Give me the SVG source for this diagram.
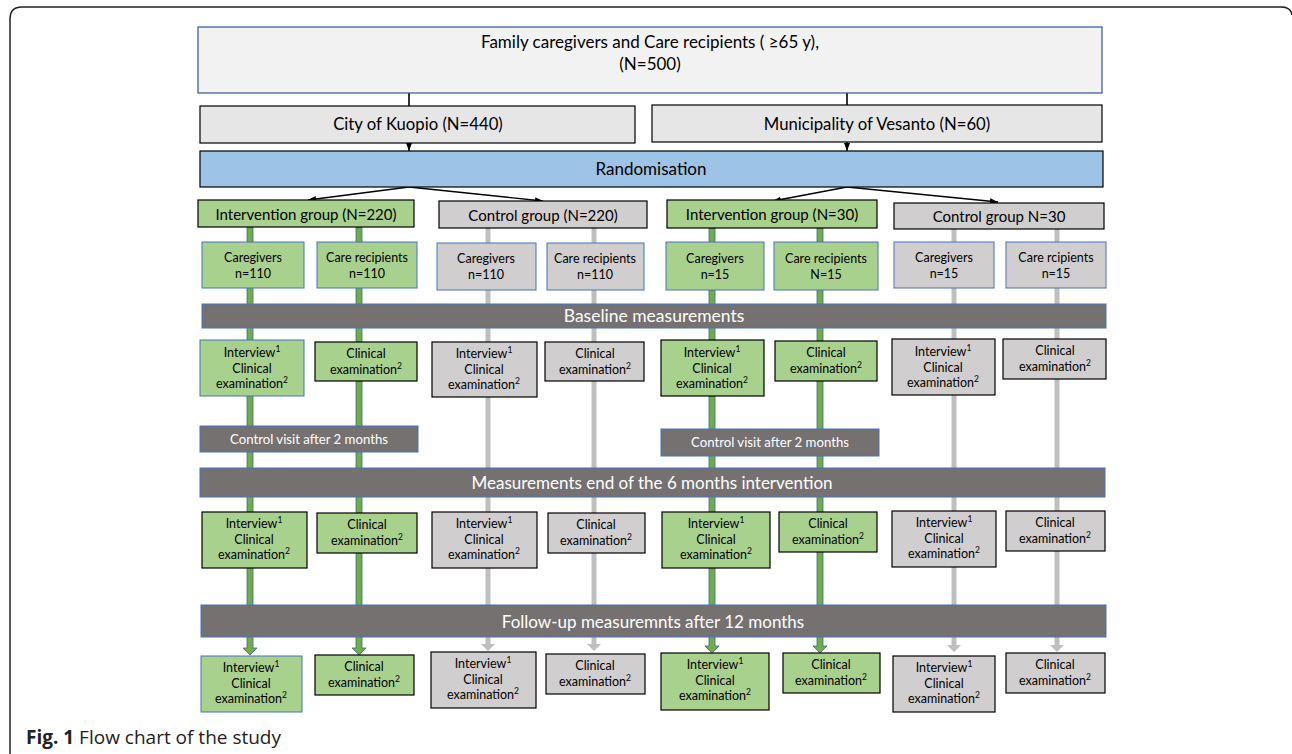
<svg xmlns="http://www.w3.org/2000/svg" width="1292" height="754" viewBox="0 0 1292 754">
<defs>
<marker id="ah" markerUnits="userSpaceOnUse" markerWidth="8" markerHeight="6" refX="8" refY="3" orient="auto">
<path d="M0,0 L8,3 L0,6 z" fill="#000"/>
</marker>
</defs>
<style>
text{font-family:Lato,"Open Sans","Liberation Sans",sans-serif;fill:#000;text-anchor:middle}
.top{fill:#f2f2f2;stroke:#2f5597;stroke-width:1.2}
.site{fill:#e7e6e6;stroke:#000;stroke-width:1.2}
.rand{fill:#9dc3e6;stroke:#000;stroke-width:1.2}
.gk{fill:#a9d18e;stroke:#000;stroke-width:1.2}
.gb{fill:#a9d18e;stroke:#4472c4;stroke-width:1}
.pk{fill:#d0cece;stroke:#000;stroke-width:1.2}
.pb{fill:#d0cece;stroke:#4472c4;stroke-width:1}
.bar{fill:#767171;stroke:#4472c4;stroke-width:1}
.wt{fill:#fff}
.s12{font-size:12.5px}
.s13{font-size:13.2px}
.s15{font-size:15px}
.s16{font-size:16.7px}
.s17{font-size:17px}
.s175{font-size:17.5px}
.sup{font-size:8.5px}
.garrow{fill:#70ad47;stroke:#3e6b94;stroke-width:0.8}
.parrow{fill:#bfbfbf}
.ln{stroke:#000;stroke-width:1.6;fill:none}
.ar{stroke:#000;stroke-width:1.4;fill:none;marker-end:url(#ah)}
.frame{fill:none;stroke:#222;stroke-width:1.5}
</style>
<rect width="1292" height="754" fill="#fff"/>
<path class="frame" d="M10,754 V19 Q10,7 22,7 H1281 Q1291,7 1292,15"/>

<g id="connectors">
<line class="ln" x1="409" y1="93" x2="409" y2="106"/>
<line class="ln" x1="847" y1="93" x2="847" y2="105"/>
<line class="ar" x1="409" y1="143" x2="409" y2="151"/>
<line class="ar" x1="847" y1="142" x2="847" y2="151"/>
<line class="ar" x1="409" y1="187" x2="308" y2="200"/>
<line class="ar" x1="409" y1="187" x2="543" y2="201"/>
<line class="ar" x1="847" y1="187" x2="773" y2="201"/>
<line class="ar" x1="847" y1="187" x2="998" y2="202"/>
<polygon class="garrow" points="247,227 253,227 253,648 257,648 250,655 243,648 247,648"/>
<polygon class="garrow" points="356,227 362,227 362,648 366,648 359,655 352,648 356,648"/>
<polygon class="garrow" points="709,228 715,228 715,646 719,646 712,653 705,646 709,646"/>
<polygon class="garrow" points="817,228 823,228 823,646 827,646 820,653 813,646 817,646"/>
<polygon class="parrow" points="485.5,228 490.5,228 490.5,644 495,644 488,651 481,644 485.5,644"/>
<polygon class="parrow" points="591.5,228 596.5,228 596.5,644 601,644 594,651 587,644 591.5,644"/>
<polygon class="parrow" points="951.5,229 956.5,229 956.5,645 961,645 954,652 947,645 951.5,645"/>
<polygon class="parrow" points="1054.5,229 1059.5,229 1059.5,645 1064,645 1057,652 1050,645 1054.5,645"/>
</g>

<g id="population">
<rect class="top" x="198" y="27" width="904" height="66"/>
<text class="s17" x="650" y="48">Family caregivers and Care recipients ( ≥65 y),</text>
<text class="s17" x="650" y="70">(N=500)</text>
</g>
<g id="kuopio">
<rect class="site" x="200" y="106" width="435" height="37"/>
<text class="s16" x="418" y="130">City of Kuopio (N=440)</text>
</g>
<g id="vesanto">
<rect class="site" x="652" y="105" width="450" height="37"/>
<text class="s16" x="877" y="130">Municipality of Vesanto (N=60)</text>
</g>
<g id="randomisation">
<rect class="rand" x="200" y="151" width="903" height="36"/>
<text class="s17" x="651" y="175">Randomisation</text>
</g>

<g id="int220">
<rect class="gk" x="198" y="200" width="216" height="27"/>
<text class="s15" x="306" y="220">Intervention group (N=220)</text>
</g>
<g id="ctl220">
<rect class="pk" x="439" y="201" width="208" height="27"/>
<text class="s15" x="543" y="221">Control group (N=220)</text>
</g>
<g id="int30">
<rect class="gk" x="667" y="200" width="210" height="28"/>
<text class="s15" x="772" y="220">Intervention group (N=30)</text>
</g>
<g id="ctl30">
<rect class="pk" x="894" y="203" width="210" height="26"/>
<text class="s15" x="999" y="222">Control group N=30</text>
</g>

<g id="cg1">
<rect class="gb" x="202" y="242" width="102" height="46"/>
<text class="s12" x="253" y="262">Caregivers</text>
<text class="s12" x="253" y="278">n=110</text>
</g>
<g id="cr1">
<rect class="gb" x="317" y="242" width="100" height="46"/>
<text class="s12" x="367" y="262">Care recipients</text>
<text class="s12" x="367" y="278">n=110</text>
</g>
<g id="cg2">
<rect class="pb" x="437" y="243" width="99" height="47"/>
<text class="s12" x="486" y="263">Caregivers</text>
<text class="s12" x="486" y="279">n=110</text>
</g>
<g id="cr2">
<rect class="pb" x="547" y="243" width="97" height="47"/>
<text class="s12" x="595" y="263">Care recipients</text>
<text class="s12" x="595" y="279">n=110</text>
</g>
<g id="cg3">
<rect class="gb" x="666" y="242" width="98" height="48"/>
<text class="s12" x="715" y="263">Caregivers</text>
<text class="s12" x="715" y="279">n=15</text>
</g>
<g id="cr3">
<rect class="gb" x="774" y="242" width="104" height="48"/>
<text class="s12" x="826" y="263">Care recipients</text>
<text class="s12" x="826" y="279">N=15</text>
</g>
<g id="cg4">
<rect class="pb" x="894" y="242" width="100" height="46"/>
<text class="s12" x="944" y="262">Caregivers</text>
<text class="s12" x="944" y="278">n=15</text>
</g>
<g id="cr4">
<rect class="pb" x="1006" y="242" width="100" height="46"/>
<text class="s12" x="1056" y="262">Care rcipients</text>
<text class="s12" x="1056" y="278">n=15</text>
</g>

<g id="baseline">
<rect class="bar" x="202" y="304" width="904" height="24"/>
<text class="s175 wt" x="654" y="322">Baseline measurements</text>
</g>

<g id="b1">
<rect class="gb" x="200" y="340" width="104" height="56"/>
<text class="s12" x="252" y="357">Interview<tspan class="sup" dy="-5">1</tspan></text>
<text class="s12" x="252" y="373">Clinical</text>
<text class="s12" x="252" y="388">examination<tspan class="sup" dy="-5">2</tspan></text>
</g>
<g id="b2">
<rect class="gk" x="315" y="342" width="102" height="39"/>
<text class="s12" x="366" y="358">Clinical</text>
<text class="s12" x="366" y="374">examination<tspan class="sup" dy="-5">2</tspan></text>
</g>
<g id="b3">
<rect class="pk" x="432" y="342" width="105" height="55"/>
<text class="s12" x="484" y="358">Interview<tspan class="sup" dy="-5">1</tspan></text>
<text class="s12" x="484" y="374">Clinical</text>
<text class="s12" x="484" y="389">examination<tspan class="sup" dy="-5">2</tspan></text>
</g>
<g id="b4">
<rect class="pk" x="545" y="342" width="99" height="39"/>
<text class="s12" x="595" y="358">Clinical</text>
<text class="s12" x="595" y="374">examination<tspan class="sup" dy="-5">2</tspan></text>
</g>
<g id="b5">
<rect class="gk" x="661" y="340" width="103" height="56"/>
<text class="s12" x="712" y="357">Interview<tspan class="sup" dy="-5">1</tspan></text>
<text class="s12" x="712" y="373">Clinical</text>
<text class="s12" x="712" y="388">examination<tspan class="sup" dy="-5">2</tspan></text>
</g>
<g id="b6">
<rect class="gk" x="775" y="341" width="102" height="40"/>
<text class="s12" x="826" y="357">Clinical</text>
<text class="s12" x="826" y="373">examination<tspan class="sup" dy="-5">2</tspan></text>
</g>
<g id="b7">
<rect class="pk" x="892" y="339" width="103" height="56"/>
<text class="s12" x="943" y="356">Interview<tspan class="sup" dy="-5">1</tspan></text>
<text class="s12" x="943" y="372">Clinical</text>
<text class="s12" x="943" y="387">examination<tspan class="sup" dy="-5">2</tspan></text>
</g>
<g id="b8">
<rect class="pk" x="1003" y="339" width="103" height="40"/>
<text class="s12" x="1055" y="355">Clinical</text>
<text class="s12" x="1055" y="371">examination<tspan class="sup" dy="-5">2</tspan></text>
</g>

<g id="visit1">
<rect class="bar" x="200" y="426" width="218" height="26"/>
<text class="s13 wt" x="309" y="444">Control visit after 2 months</text>
</g>
<g id="visit2">
<rect class="bar" x="661" y="429" width="218" height="27"/>
<text class="s13 wt" x="770" y="447">Control visit after 2 months</text>
</g>

<g id="end6">
<rect class="bar" x="200" y="468" width="905" height="29"/>
<text class="s17 wt" x="652" y="489">Measurements end of the 6 months intervention</text>
</g>

<g id="e1">
<rect class="gk" x="202" y="512" width="105" height="56"/>
<text class="s12" x="254" y="528">Interview<tspan class="sup" dy="-5">1</tspan></text>
<text class="s12" x="254" y="544">Clinical</text>
<text class="s12" x="254" y="559">examination<tspan class="sup" dy="-5">2</tspan></text>
</g>
<g id="e2">
<rect class="gk" x="317" y="513" width="100" height="40"/>
<text class="s12" x="367" y="529">Clinical</text>
<text class="s12" x="367" y="545">examination<tspan class="sup" dy="-5">2</tspan></text>
</g>
<g id="e3">
<rect class="pk" x="432" y="512" width="105" height="56"/>
<text class="s12" x="484" y="528">Interview<tspan class="sup" dy="-5">1</tspan></text>
<text class="s12" x="484" y="544">Clinical</text>
<text class="s12" x="484" y="559">examination<tspan class="sup" dy="-5">2</tspan></text>
</g>
<g id="e4">
<rect class="pk" x="548" y="513" width="97" height="40"/>
<text class="s12" x="596" y="529">Clinical</text>
<text class="s12" x="596" y="545">examination<tspan class="sup" dy="-5">2</tspan></text>
</g>
<g id="e5">
<rect class="gk" x="662" y="512" width="108" height="56"/>
<text class="s12" x="716" y="528">Interview<tspan class="sup" dy="-5">1</tspan></text>
<text class="s12" x="716" y="544">Clinical</text>
<text class="s12" x="716" y="559">examination<tspan class="sup" dy="-5">2</tspan></text>
</g>
<g id="e6">
<rect class="gk" x="779" y="512" width="98" height="40"/>
<text class="s12" x="828" y="528">Clinical</text>
<text class="s12" x="828" y="544">examination<tspan class="sup" dy="-5">2</tspan></text>
</g>
<g id="e7">
<rect class="pk" x="892" y="511" width="104" height="56"/>
<text class="s12" x="944" y="527">Interview<tspan class="sup" dy="-5">1</tspan></text>
<text class="s12" x="944" y="543">Clinical</text>
<text class="s12" x="944" y="558">examination<tspan class="sup" dy="-5">2</tspan></text>
</g>
<g id="e8">
<rect class="pk" x="1006" y="511" width="99" height="40"/>
<text class="s12" x="1055" y="527">Clinical</text>
<text class="s12" x="1055" y="543">examination<tspan class="sup" dy="-5">2</tspan></text>
</g>

<g id="followup">
<rect class="bar" x="201" y="605" width="905" height="32"/>
<text class="s17 wt" x="653" y="628">Follow-up measuremnts after 12 months</text>
</g>

<g id="f1">
<rect class="gb" x="201" y="656" width="101" height="56"/>
<text class="s12" x="251" y="672">Interview<tspan class="sup" dy="-5">1</tspan></text>
<text class="s12" x="251" y="688">Clinical</text>
<text class="s12" x="251" y="703">examination<tspan class="sup" dy="-5">2</tspan></text>
</g>
<g id="f2">
<rect class="gk" x="315" y="655" width="99" height="40"/>
<text class="s12" x="364" y="671">Clinical</text>
<text class="s12" x="364" y="687">examination<tspan class="sup" dy="-5">2</tspan></text>
</g>
<g id="f3">
<rect class="pk" x="431" y="652" width="105" height="56"/>
<text class="s12" x="483" y="668">Interview<tspan class="sup" dy="-5">1</tspan></text>
<text class="s12" x="483" y="684">Clinical</text>
<text class="s12" x="483" y="699">examination<tspan class="sup" dy="-5">2</tspan></text>
</g>
<g id="f4">
<rect class="pk" x="546" y="654" width="99" height="40"/>
<text class="s12" x="595" y="670">Clinical</text>
<text class="s12" x="595" y="686">examination<tspan class="sup" dy="-5">2</tspan></text>
</g>
<g id="f5">
<rect class="gk" x="661" y="653" width="108" height="57"/>
<text class="s12" x="715" y="669">Interview<tspan class="sup" dy="-5">1</tspan></text>
<text class="s12" x="715" y="685">Clinical</text>
<text class="s12" x="715" y="700">examination<tspan class="sup" dy="-5">2</tspan></text>
</g>
<g id="f6">
<rect class="gk" x="783" y="653" width="97" height="40"/>
<text class="s12" x="831" y="669">Clinical</text>
<text class="s12" x="831" y="685">examination<tspan class="sup" dy="-5">2</tspan></text>
</g>
<g id="f7">
<rect class="pk" x="893" y="656" width="102" height="56"/>
<text class="s12" x="944" y="672">Interview<tspan class="sup" dy="-5">1</tspan></text>
<text class="s12" x="944" y="688">Clinical</text>
<text class="s12" x="944" y="703">examination<tspan class="sup" dy="-5">2</tspan></text>
</g>
<g id="f8">
<rect class="pk" x="1006" y="653" width="99" height="40"/>
<text class="s12" x="1055" y="669">Clinical</text>
<text class="s12" x="1055" y="685">examination<tspan class="sup" dy="-5">2</tspan></text>
</g>

<g id="caption">
<text x="26" y="744" style="text-anchor:start;font-family:'Open Sans','Noto Sans',sans-serif;font-size:19px;fill:#222"><tspan font-weight="bold">Fig. 1</tspan> Flow chart of the study</text>
</g>
</svg>
